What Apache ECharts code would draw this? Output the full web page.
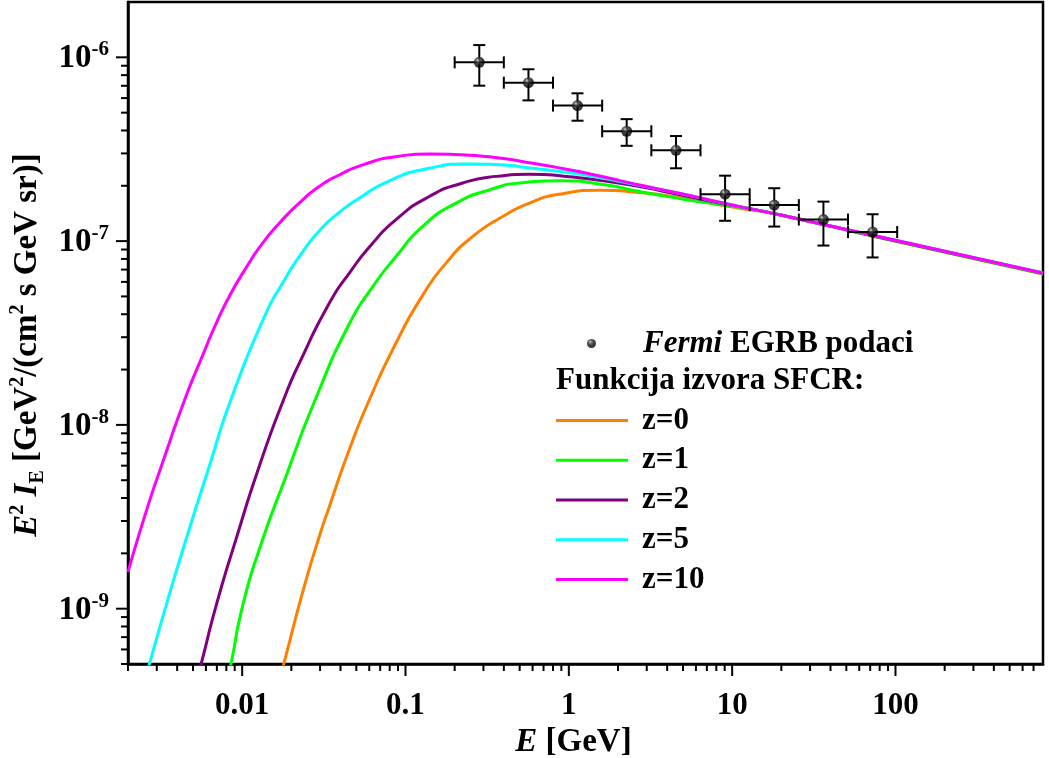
<!DOCTYPE html>
<html>
<head>
<meta charset="utf-8">
<script src="https://cdn.jsdelivr.net/npm/echarts@6.0.0/dist/echarts.min.js"></script>
<style>
html,body{margin:0;padding:0;background:#fff;}
#chart{width:1049px;height:758px;}
</style>
</head>
<body>
<div id="chart"></div>
<script>
// ---------- data ----------
const xMajorTicks = [0.01, 0.1, 1, 10, 100];
const xMinorTicks = [0.002,0.003,0.004,0.005,0.006,0.007,0.008,0.009,
                     0.02,0.03,0.04,0.05,0.06,0.07,0.08,0.09,
                     0.2,0.3,0.4,0.5,0.6,0.7,0.8,0.9,
                     2,3,4,5,6,7,8,9,
                     20,30,40,50,60,70,80,90,
                     200,300,400,500,600,700];
const yMajorTicks = [1e-9, 1e-8, 1e-7, 1e-6];
const yMinorTicks = [5e-10,6e-10,7e-10,8e-10,9e-10,
                     2e-9,3e-9,4e-9,5e-9,6e-9,7e-9,8e-9,9e-9,
                     2e-8,3e-8,4e-8,5e-8,6e-8,7e-8,8e-8,9e-8,
                     2e-7,3e-7,4e-7,5e-7,6e-7,7e-7,8e-7,9e-7];

const seriesNames = ['z=0', 'z=1', 'z=2', 'z=5', 'z=10'];
const seriesColors = ['#FF8000', '#00FF00', '#800080', '#00FFFF', '#FF00FF'];

const z0E = [0.0172,0.01794,0.0234,0.0297,0.0342,0.0453,0.0601,0.0875,0.127,0.177,0.258,0.394,0.574,0.877,1.54,2.71,4.34,6.95,11.1,19.5,100,800];
const z0V = [4.4e-10,4.98e-10,1.22e-9,2.48e-9,3.60e-9,7.34e-9,1.37e-8,2.79e-8,5.05e-8,7.59e-8,1.06e-7,1.36e-7,1.61e-7,1.80e-7,1.89e-7,1.84e-7,1.75e-7,1.62e-7,1.51e-7,1.39e-7,9.97e-8,6.62e-8];

const z1E = [0.00822,0.00853,0.01005,0.01273,0.01855,0.0283,0.0453,0.0630,0.0875,0.127,0.204,0.327,0.523,0.877,1.69,2.71,4.34,6.95,11.1,19.5,100,800];
const z1V = [4.4e-10,4.98e-10,1.03e-9,2.10e-9,5.26e-9,1.40e-8,3.55e-8,5.65e-8,8.25e-8,1.20e-7,1.61e-7,1.90e-7,2.08e-7,2.13e-7,2.02e-7,1.86e-7,1.73e-7,1.62e-7,1.53e-7,1.39e-7,1.0e-7,6.65e-8];

const z2E = [0.00538,0.0056,0.00691,0.00916,0.01273,0.0181,0.0224,0.0342,0.0453,0.0630,0.0875,0.140,0.224,0.359,0.574,0.964,1.54,2.71,4.34,6.95,11.1,19.5,100,800];
const z2V = [4.4e-10,4.98e-10,1.03e-9,2.38e-9,5.96e-9,1.40e-8,2.17e-8,4.60e-8,6.70e-8,9.75e-8,1.31e-7,1.75e-7,2.07e-7,2.25e-7,2.31e-7,2.25e-7,2.14e-7,1.98e-7,1.82e-7,1.67e-7,1.54e-7,1.39e-7,1.005e-7,6.68e-8];

const z5E = [0.00259,0.0027,0.00341,0.00453,0.00629,0.00853,0.0140,0.0177,0.0224,0.0297,0.0393,0.0498,0.0797,0.140,0.235,0.376,0.601,0.964,1.54,2.71,4.34,6.95,11.1,19.5,100,800];
const z5V = [4.4e-10,4.98e-10,1.03e-9,2.38e-9,5.96e-9,1.37e-8,4.06e-8,5.92e-8,8.25e-8,1.138e-7,1.433e-7,1.667e-7,2.13e-7,2.49e-7,2.63e-7,2.60e-7,2.49e-7,2.37e-7,2.22e-7,2.01e-7,1.85e-7,1.69e-7,1.54e-7,1.39e-7,1.01e-7,6.70e-8];

const z10E = [0.002,0.00257,0.00325,0.00453,0.00572,0.0069,0.00834,0.01054,0.01334,0.01687,0.02235,0.0296,0.0393,0.0547,0.0876,0.140,0.235,0.376,0.601,0.964,1.54,2.71,4.34,6.95,11.1,19.5,100,800];
const z10V = [1.58e-9,3.33e-9,6.21e-9,1.43e-8,2.38e-8,3.53e-8,5.00e-8,7.13e-8,9.75e-8,1.25e-7,1.61e-7,1.98e-7,2.29e-7,2.60e-7,2.88e-7,2.98e-7,2.94e-7,2.83e-7,2.65e-7,2.46e-7,2.26e-7,2.02e-7,1.85e-7,1.69e-7,1.54e-7,1.39e-7,1.01e-7,6.70e-8];

const curveE = [z0E, z1E, z2E, z5E, z10E];
const curveV = [z0V, z1V, z2V, z5V, z10V];

const fermiName = 'Fermi EGRB podaci';
const fermiE   = [0.283, 0.566, 1.13, 2.26, 4.53, 9.05, 18.1, 36.2, 72.4];
const fermiELo = [0.2, 0.4, 0.8, 1.6, 3.2, 6.4, 12.8, 25.6, 51.2];
const fermiEHi = [0.4, 0.8, 1.6, 3.2, 6.4, 12.8, 25.6, 51.2, 102.4];
const fermiV   = [9.39e-7, 7.28e-7, 5.46e-7, 3.96e-7, 3.12e-7, 1.80e-7, 1.57e-7, 1.31e-7, 1.12e-7];
const fermiVLo = [7.01e-7, 5.83e-7, 4.52e-7, 3.30e-7, 2.49e-7, 1.29e-7, 1.20e-7, 9.46e-8, 8.15e-8];
const fermiVHi = [1.166e-6, 8.61e-7, 6.37e-7, 4.61e-7, 3.73e-7, 2.27e-7, 1.94e-7, 1.64e-7, 1.40e-7];

// ---------- chart ----------
const FONT = '"Liberation Serif", "Times New Roman", serif';
const chart = echarts.init(document.getElementById('chart'), null, {renderer: 'canvas'});

const lineSeries = seriesNames.map((n, i) => ({
  name: n,
  type: 'line',
  data: curveE[i].map((e, k) => [e, curveV[i][k]]),
  smooth: 0.6,
  symbol: 'none',
  clip: true,
  lineStyle: {color: seriesColors[i], width: 3},
  itemStyle: {color: seriesColors[i]},
  z: 3 + i * 0.1,
  silent: true,
  animation: false
}));

const X_MAJOR = 12, X_MINOR = 7;

const option = {
  backgroundColor: '#fff',
  animation: false,
  grid: {
    left: 128, right: 6, top: 2, bottom: 94,
    containLabel: false, outerBoundsMode: 'none',
    show: true, borderColor: '#000', borderWidth: 2.5, backgroundColor: 'transparent'
  },
  title: {
    text: 'Funkcija izvora SFCR:',
    left: 556, top: 365, padding: 0,
    textStyle: {fontFamily: FONT, fontWeight: 'bold', fontSize: 31, color: '#000'}
  },
  legend: [
    {
      data: [{name: fermiName, icon: 'circle'}],
      left: 587, top: 328,
      itemWidth: 9, itemHeight: 9,
      selectedMode: false,
      padding: 0,
      formatter: () => '{it|Fermi} EGRB podaci',
      textStyle: {
        fontFamily: FONT, fontWeight: 'bold', fontSize: 31, color: '#000', padding: [0, 0, 0, 42],
        rich: {it: {fontFamily: FONT, fontWeight: 'bold', fontStyle: 'italic', fontSize: 31, color: '#000'}}
      }
    },
    {
      data: seriesNames.map(n => ({name: n, icon: 'rect'})),
      orient: 'vertical',
      left: 556, top: 405,
      itemWidth: 72, itemHeight: 3, itemGap: 8.75,
      selectedMode: false,
      padding: 0,
      textStyle: {fontFamily: FONT, fontWeight: 'bold', fontSize: 31, lineHeight: 30, color: '#000', padding: [0, 0, 0, 9]}
    }
  ],
  xAxis: {
    type: 'log', logBase: 10,
    min: 0.002, max: 800,
    name: '{i|E} [GeV]',
    nameLocation: 'middle', nameGap: 60,
    nameTextStyle: {
      fontFamily: FONT, fontWeight: 'bold', fontSize: 33, color: '#000', padding: [0, 24, 0, 0],
      rich: {i: {fontFamily: FONT, fontWeight: 'bold', fontStyle: 'italic', fontSize: 33, color: '#000'}}
    },
    axisLine: {show: true, onZero: false, lineStyle: {color: '#000', width: 2.5}},
    axisTick: {show: false},
    minorTick: {show: false},
    splitLine: {show: false},
    axisLabel: {
      show: true, margin: 26, showMinLabel: false, showMaxLabel: false,
      fontFamily: FONT, fontWeight: 'bold', fontSize: 31, color: '#000',
      formatter: v => String(+(+v).toPrecision(3))
    }
  },
  yAxis: {
    type: 'log', logBase: 10,
    min: 5e-10, max: 2e-6,
    name: '{i|E}{sup|2} {i|I}{sub|E} {n|[GeV}{sup|2}{n|/(cm}{sup|2}{n| s GeV sr)]}',
    nameLocation: 'middle', nameGap: 55, nameRotate: 90,
    nameTextStyle: {
      fontFamily: FONT, fontWeight: 'bold', fontSize: 33, color: '#000', padding: [0, 24, 0, 0],
      rich: {
        i: {fontFamily: FONT, fontWeight: 'bold', fontStyle: 'italic', fontSize: 33, lineHeight: 40, color: '#000', verticalAlign: 'middle'},
        n: {fontFamily: FONT, fontWeight: 'bold', fontSize: 33, lineHeight: 40, color: '#000', verticalAlign: 'middle'},
        sup: {fontFamily: FONT, fontWeight: 'bold', fontSize: 20, lineHeight: 20, color: '#000', verticalAlign: 'top'},
        sub: {fontFamily: FONT, fontWeight: 'bold', fontSize: 20, lineHeight: 20, color: '#000', verticalAlign: 'bottom'}
      }
    },
    axisLine: {show: true, onZero: false, lineStyle: {color: '#000', width: 2.5}},
    axisTick: {show: false},
    minorTick: {show: false},
    splitLine: {show: false},
    axisLabel: {
      show: true, margin: 19, showMinLabel: false, showMaxLabel: false,
      formatter: v => '{b|10}{s|' + Math.round(Math.log10(v)) + '}',
      rich: {
        b: {fontFamily: FONT, fontWeight: 'bold', fontSize: 33, lineHeight: 36, color: '#000', verticalAlign: 'bottom'},
        s: {fontFamily: FONT, fontWeight: 'bold', fontSize: 21, lineHeight: 21, color: '#000', verticalAlign: 'top'}
      }
    }
  },
  series: [
    ...lineSeries,
    {
      name: 'xticks', type: 'custom', silent: true, clip: false, z: 10,
      data: xMajorTicks.map(v => [v, 1e-8, X_MAJOR]).concat(xMinorTicks.map(v => [v, 1e-8, X_MINOR])),
      encode: {x: 0, y: 1},
      renderItem: (params, api) => {
        const cs = params.coordSys;
        const x = api.coord([api.value(0), 1e-8])[0];
        const y0 = cs.y + cs.height;
        return {type: 'line', shape: {x1: x, y1: y0, x2: x, y2: y0 + api.value(2)}, style: {stroke: '#000', lineWidth: 2}};
      }
    },
    {
      name: 'yticks', type: 'custom', silent: true, clip: false, z: 10,
      data: yMajorTicks.map(v => [1, v, X_MAJOR]).concat(yMinorTicks.map(v => [1, v, X_MINOR])),
      encode: {x: 0, y: 1},
      renderItem: (params, api) => {
        const cs = params.coordSys;
        const y = api.coord([1, api.value(1)])[1];
        const x0 = cs.x;
        return {type: 'line', shape: {x1: x0, y1: y, x2: x0 - api.value(2), y2: y}, style: {stroke: '#000', lineWidth: 2}};
      }
    },
    {
      name: 'errorbars', type: 'custom', silent: true, z: 5,
      data: fermiE.map((e, k) => [e, fermiV[k], fermiELo[k], fermiEHi[k], fermiVLo[k], fermiVHi[k]]),
      encode: {x: 0, y: 1},
      renderItem: (params, api) => {
        const e = api.value(0), v = api.value(1);
        const l = api.coord([api.value(2), v]);
        const r = api.coord([api.value(3), v]);
        const t = api.coord([e, api.value(5)]);
        const b = api.coord([e, api.value(4)]);
        const cap = 6;
        const st = {stroke: '#000', lineWidth: 2};
        const ln = (x1, y1, x2, y2) => ({type: 'line', shape: {x1, y1, x2, y2}, style: st});
        return {type: 'group', children: [
          ln(l[0], l[1], r[0], r[1]),
          ln(t[0], t[1], b[0], b[1]),
          ln(l[0], l[1] - cap, l[0], l[1] + cap),
          ln(r[0], r[1] - cap, r[0], r[1] + cap),
          ln(t[0] - cap, t[1], t[0] + cap, t[1]),
          ln(b[0] - cap, b[1], b[0] + cap, b[1])
        ]};
      }
    },
    {
      name: fermiName, type: 'scatter', z: 6, silent: true,
      data: fermiE.map((e, k) => [e, fermiV[k]]),
      symbol: 'circle', symbolSize: 11,
      itemStyle: {
        color: new echarts.graphic.RadialGradient(0.38, 0.32, 0.7, [
          {offset: 0, color: '#d0d0d0'},
          {offset: 0.25, color: '#4a4a4a'},
          {offset: 0.6, color: '#0c0c0c'},
          {offset: 1, color: '#000000'}
        ])
      }
    }
  ]
};
chart.setOption(option);
</script>
</body>
</html>
